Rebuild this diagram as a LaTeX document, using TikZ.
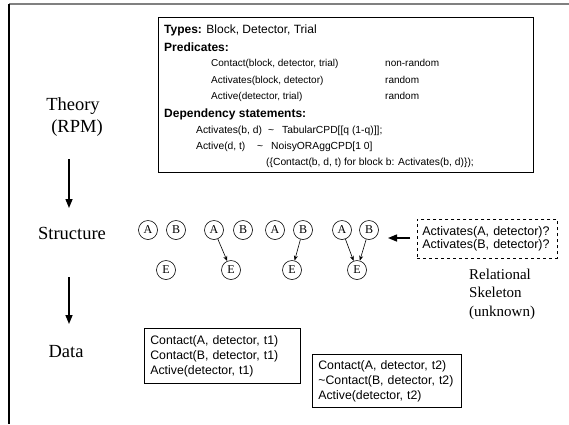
\documentclass[tikz,border=0pt]{standalone}
\usepackage{fontspec}
\setmainfont{Liberation Serif}
\newfontfamily\arialish{Liberation Sans}
\usetikzlibrary{arrows.meta}
\begin{document}
\begin{tikzpicture}[x=1pt,y=-1pt,
  headtext/.style={anchor=base west,inner sep=0pt,font=\arialish\fontsize{12}{14}\selectfont},
  predtext/.style={anchor=base west,inner sep=0pt,font=\arialish\fontsize{10}{12}\selectfont},
  deptext/.style={anchor=base west,inner sep=0pt,font=\arialish\fontsize{10.3}{12}\selectfont},
  levellabel/.style={inner sep=0pt,font=\fontsize{18.5}{20}\selectfont},
  varnode/.style={circle,draw,line width=0.6pt,minimum size=19pt,inner sep=0pt,font=\fontsize{12}{12}\selectfont},
  edgearrow/.style={-{Stealth[length=5pt,width=4pt]},line width=0.6pt},
  bigarrow/.style={-{Stealth[length=9pt,width=7pt,inset=0pt]},line width=1.4pt},
  textbox/.style={anchor=north west,inner ysep=0pt,inner xsep=6pt,align=left,
    font=\arialish\fontsize{12.3}{15}\selectfont}]
\useasboundingbox (0,0) rectangle (569,424);
% outer frame (top and left sides)
\draw[line width=1.4pt,gray] (9,4) -- (569,4);
\draw[line width=1.2pt] (9,4) -- (9,424);

% level labels and the arrows between them
\node[levellabel] (theory) at (73,106) {Theory};
\node[levellabel] (rpm) at (77,128) {(RPM)};
\node[levellabel] (structure) at (72,233) {Structure};
\node[levellabel] (data) at (66,352) {Data};
\coordinate (a1s) at (69,159);
\coordinate (a1e) at (69,208);
\coordinate (a2s) at (69,277);
\coordinate (a2e) at (69,324);
\draw[bigarrow] (a1s) -- (a1e);
\draw[bigarrow] (a2s) -- (a2e);

% theory box
\draw[line width=1pt] (158,17) rectangle (533,172);
\node[headtext] (types) at (164,33.3) {\textbf{Types:} Block, Detector, Trial};
\node[headtext] (preds) at (164,51.3) {\textbf{Predicates:}};
\node[predtext] (p1) at (211,66.6) {Contact(block, detector, trial)};
\node[predtext] (p1r) at (385,66.6) {non-random};
\node[predtext] (p2) at (211,83.6) {Activates(block, detector)};
\node[predtext] (p2r) at (385,83.6) {random};
\node[predtext] (p3) at (211,99.6) {Active(detector, trial)};
\node[predtext] (p3r) at (385,99.6) {random};
\node[headtext] (deps) at (164,117.3) {\textbf{Dependency statements:}};
\node[deptext] (d1) at (196,133) {Activates(b, d)};
\node[deptext] (d1t) at (268,133) {\textasciitilde};
\node[deptext] (d1c) at (282,133) {TabularCPD[[q (1-q)]];};
\node[deptext] (d2) at (196,149) {Active(d, t)};
\node[deptext] (d2t) at (257,149) {\textasciitilde};
\node[deptext] (d2c) at (271,149) {NoisyORAggCPD[1 0]};
\node[deptext] (d3) at (266,165) {(\{Contact(b, d, t) for block b: Activates(b, d)\});};

% candidate structures
\foreach \g/\xa/\xb/\xe in {1/148/176/166, 2/214/243/231, 3/275/303/292, 4/342/369/357} {
  \node[varnode] (A\g) at (\xa,230) {A};
  \node[varnode] (B\g) at (\xb,230) {B};
  \node[varnode] (E\g) at (\xe,270) {E};
}
\draw[edgearrow] (A2) -- (E2);
\draw[edgearrow] (B3) -- (E3);
\draw[edgearrow] (A4) -- (E4);
\draw[edgearrow] (B4) -- (E4);

% relational skeleton
\node[draw,dashed,line width=0.8pt,anchor=north west,minimum height=39pt,
  inner ysep=0pt,inner xsep=5pt,text width=130pt,align=left,
  font=\arialish\fontsize{12.5}{13.5}\selectfont] (skel) at (417,219)
  {Activates(A, detector)?\\Activates(B, detector)?};
\coordinate (skelarrow) at (388,238);
\draw[bigarrow] (skel.west |- skelarrow) ++(-7,0) -- (skelarrow);
\node[anchor=west,inner sep=0pt,align=left,font=\fontsize{15}{18.5}\selectfont] (skellabel) at (469,294)
  {Relational\\Skeleton\\(unknown)};

% data sets
\node[textbox,draw,line width=0.7pt,text width=144pt,minimum height=55pt] (data1) at (144,328)
  {Contact(A, detector, t1)\\Contact(B, detector, t1)\\Active(detector, t1)};
\node[textbox,draw,line width=0.7pt,text width=137pt,minimum height=53pt] (data2) at (312,354)
  {Contact(A, detector, t2)\\\textasciitilde Contact(B, detector, t2)\\Active(detector, t2)};
\end{tikzpicture}
\end{document}
